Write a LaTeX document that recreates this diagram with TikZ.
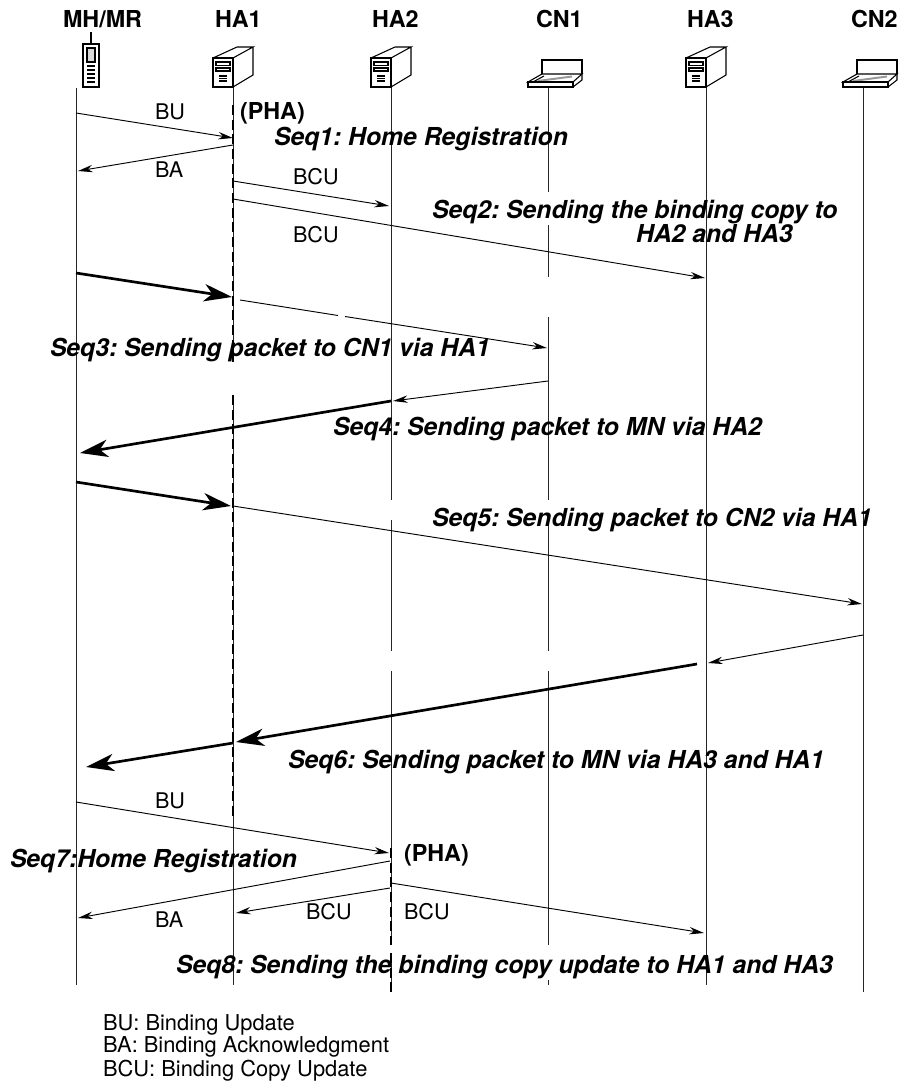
\documentclass[tikz,border=0pt]{standalone}
\usepackage{fontspec}
\setmainfont{TeX Gyre Heros}
\usetikzlibrary{arrows.meta}
\definecolor{keygray}{gray}{0.6}
\definecolor{screengray}{gray}{0.85}
\tikzset{
  lbl/.style={inner sep=0pt,outer sep=0pt,anchor=base west,font=\fontsize{16.2pt}{16.2pt}\selectfont\frenchspacing},
  keylbl/.style={lbl,font=\fontsize{16.4pt}{16.4pt}\selectfont\frenchspacing},
  hdr/.style={lbl,font=\fontsize{17.5pt}{17.5pt}\selectfont\bfseries},
  seqlbl/.style={lbl,font=\fontsize{18.55pt}{18.55pt}\selectfont\bfseries\itshape\frenchspacing},
  life/.style={line width=0.7pt,black!85},
  prim/.style={line width=2.2pt,dash pattern=on 7.5pt off 3.5pt},
  msg/.style={line width=0.7pt,-{Stealth[length=11pt,width=5.5pt,inset=3.5pt]}},
  plain/.style={line width=0.7pt},
  heavy/.style={line width=2pt,-{Stealth[length=21pt,width=13pt,inset=6pt]}},
  icon/.style={line width=0.8pt},
  pics/serverbox/.style={code={
    \draw[icon,fill=white] (-20,-29) rectangle (0,0);
    \draw[icon] (-20,-29) -- (4,-40) -- (20,-40) -- (0,-29) (20,-40) -- (20,-12) -- (0,0);
    \draw[icon] (-17,-25) rectangle (-3,-21.5) (-17,-19) rectangle (-3,-16);
    \draw[icon] (-14,-11) -- (-6,-11) (-14,-8.5) -- (-6,-8.5) (-14,-6) -- (-6,-6);
  }},
  pics/laptopbox/.style={code={
    \draw[icon] (-6,-13) -- (-6,-27) -- (34,-27) -- (34,-13);
    \draw[line width=1.5pt,keygray] (-10,-6) -- (24,-10.5);
    \draw[icon] (-6,-13) -- (34,-13) -- (25,-5) -- (-20,-5) -- cycle;
    \draw[icon] (-20,-5) rectangle (25,0);
    \draw[icon] (25,0) -- (34,-7) -- (34,-13);
    \draw[icon] (-15,-5) -- (-4,-11);
  }},
  pics/phonebox/.style={code={
    \draw[icon] (7,-43) rectangle (23,0);
    \draw[icon] (15,-43) -- (15,-55);
    \draw[icon,fill=screengray] (11,-39) rectangle (19,-25);
    \draw[icon] (11,-21) -- (19,-21) (11,-17) -- (19,-17) (11,-13) -- (19,-13) (11,-9) -- (19,-9) (11,-5) -- (19,-5);
  }}
}
\begin{document}
\begin{tikzpicture}[x=0.75pt,y=-0.75pt]
\useasboundingbox (0,0) rectangle (901,1084);
% headers
\node[hdr] (hMH) at (63,28) {MH/MR};
\node[hdr] (hHA1) at (215,28) {HA1};
\node[hdr] (hHA2) at (372,28) {HA2};
\node[hdr] (hCN1) at (536,28) {CN1};
\node[hdr] (hHA3) at (687,28) {HA3};
\node[hdr] (hCN2) at (851,28) {CN2};
% icons
\pic at (76,87) {phonebox};
\pic at (233,87) {serverbox};
\pic at (391,87) {serverbox};
\pic at (548,87) {laptopbox};
\pic at (706,87) {serverbox};
\pic at (863,87) {laptopbox};
% lifelines
\draw[life] (76,88) -- (76,985);
\draw[life] (233,88) -- (233,362) (233,395) -- (233,985);
\draw[life] (391,88) -- (391,500) (391,520) -- (391,651) (391,671) -- (391,945) (391,953) -- (391,992);
\draw[life] (548,88) -- (548,192) (548,225) -- (548,277) (548,317) -- (548,500) (548,520) -- (548,651) (548,671) -- (548,945) (548,980) -- (548,985);
\draw[life] (706,88) -- (706,985);
\draw[life] (863,88) -- (863,992);
% primary home agent phases
\draw[prim] (233,105) -- (233,362);
\draw[prim] (233,395) -- (233,820);
\draw[prim] (391,848) -- (391,945);
\draw[prim] (391,953) -- (391,992);
% end points of the messages
\coordinate (m1a) at (76,113);   \coordinate (m1b) at (233,138);
\coordinate (m2a) at (233,145);  \coordinate (m2b) at (78,171);
\coordinate (m3a) at (233,181);  \coordinate (m3b) at (389,206);
\coordinate (m4a) at (233,199);  \coordinate (m4b) at (705,278);
\coordinate (m5a) at (76,273);   \coordinate (m5b) at (232,297);
\coordinate (m6a) at (240,300);  \coordinate (m6m) at (338,315.5);
\coordinate (m6n) at (345,316.5); \coordinate (m6b) at (547,348);
\coordinate (m7a) at (548,381);  \coordinate (m7b) at (393,401);
\coordinate (m8a) at (391,401);  \coordinate (m8b) at (80,453);
\coordinate (m9a) at (76,482);   \coordinate (m9b) at (231,506);
\coordinate (m10a) at (233,506); \coordinate (m10b) at (862,604);
\coordinate (m11a) at (863,635); \coordinate (m11b) at (708,663);
\coordinate (m12a) at (697,664); \coordinate (m12b) at (236,742);
\coordinate (m13a) at (233,743); \coordinate (m13b) at (86,767);
\coordinate (m14a) at (76,802);  \coordinate (m14b) at (389,853);
\coordinate (m15a) at (390,861); \coordinate (m15b) at (78,918);
\coordinate (m16a) at (390,888); \coordinate (m16b) at (236,913);
\coordinate (m17a) at (391,883); \coordinate (m17b) at (704,933);
% messages
\draw[msg] (m1a) -- (m1b);
\draw[msg] (m2a) -- (m2b);
\draw[msg] (m3a) -- (m3b);
\draw[msg] (m4a) -- (m4b);
\draw[heavy] (m5a) -- (m5b);
\draw[plain] (m6a) -- (m6m);
\draw[msg] (m6n) -- (m6b);
\draw[msg] (m7a) -- (m7b);
\draw[heavy] (m8a) -- (m8b);
\draw[heavy] (m9a) -- (m9b);
\draw[msg] (m10a) -- (m10b);
\draw[msg] (m11a) -- (m11b);
\draw[heavy] (m12a) -- (m12b);
\draw[heavy] (m13a) -- (m13b);
\draw[msg] (m14a) -- (m14b);
\draw[msg] (m15a) -- (m15b);
\draw[msg] (m16a) -- (m16b);
\draw[msg] (m17a) -- (m17b);
% message labels
\node[lbl] (tBU1) at (155,120) {BU};
\node[lbl] (tBA1) at (155,178) {BA};
\node[lbl] (tBCU1) at (293,185) {BCU};
\node[lbl] (tBCU2) at (293,243) {BCU};
\node[hdr] (tPHA1) at (240,120) {(PHA)};
\node[lbl] (tBU2) at (155,808) {BU};
\node[lbl] (tBA2) at (155,927) {BA};
\node[lbl] (tBCU3) at (306,919) {BCU};
\node[lbl] (tBCU4) at (404,919) {BCU};
\node[hdr] (tPHA2) at (404,861) {(PHA)};
% sequence labels
\node[seqlbl] (s1) at (274,146) {Seq1: Home Registration};
\node[seqlbl] (s2) at (432,219) {Seq2: Sending the binding copy to};
\node[seqlbl] (s2b) at (636,243) {HA2 and HA3};
\node[seqlbl] (s3) at (50,356) {Seq3: Sending packet to CN1 via HA1};
\node[seqlbl] (s4) at (333,435) {Seq4: Sending packet to MN via HA2};
\node[seqlbl] (s5) at (432,526) {Seq5: Sending packet to CN2 via HA1};
\node[seqlbl] (s6) at (288,768) {Seq6: Sending packet to MN via HA3 and HA1};
\node[seqlbl] (s7) at (10,867) {Seq7:Home Registration};
\node[seqlbl] (s8) at (176,973) {Seq8: Sending the binding copy update to HA1 and HA3};
% legend
\node[keylbl] (k1) at (103,1030) {BU: Binding Update};
\node[keylbl] (k2) at (103,1052) {BA: Binding Acknowledgment};
\node[keylbl] (k3) at (103,1076) {BCU: Binding Copy Update};
\end{tikzpicture}
\end{document}
